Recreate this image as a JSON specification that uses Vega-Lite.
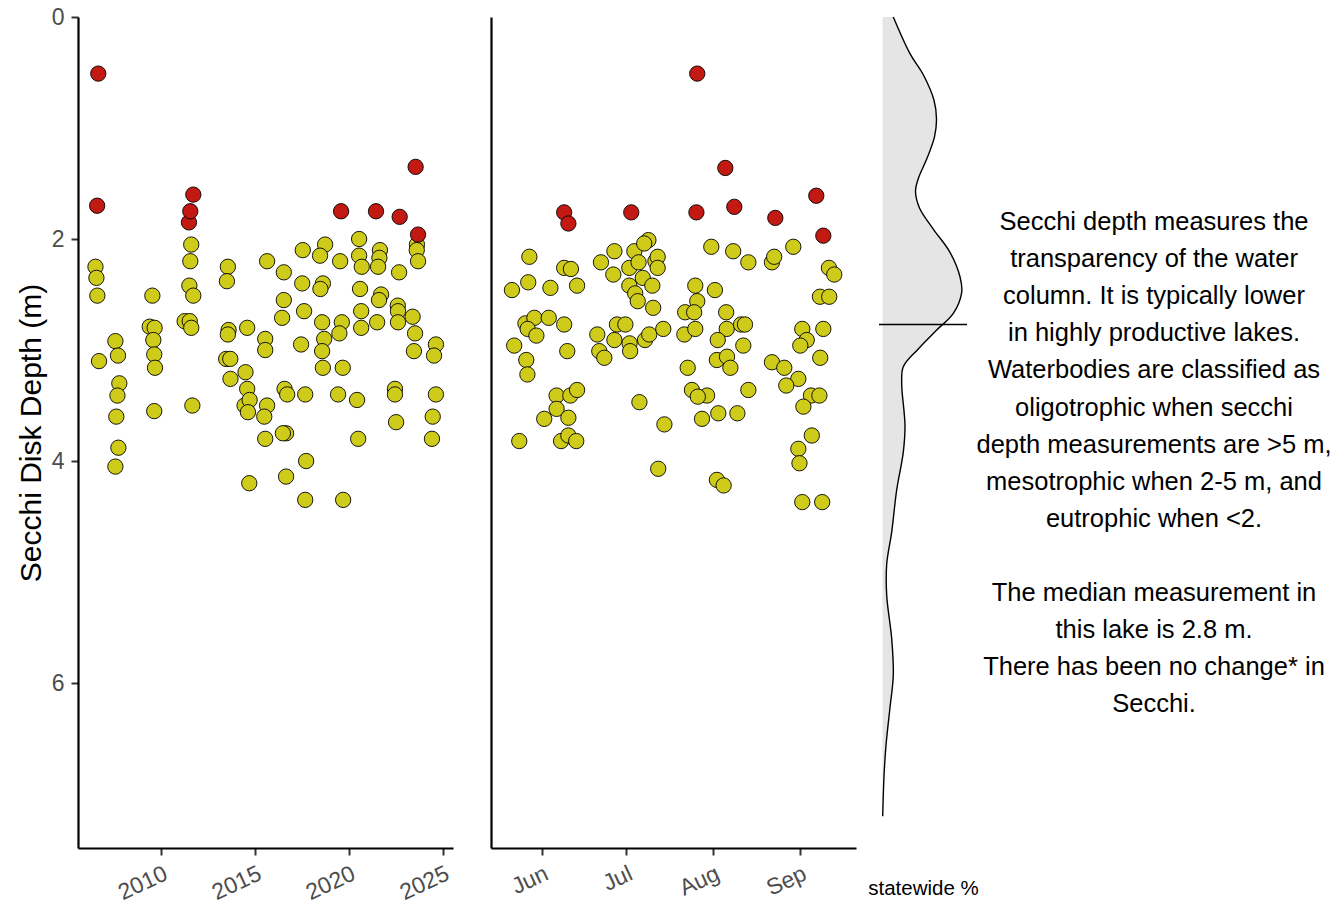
{
  "$schema": "https://vega.github.io/schema/vega-lite/v6.json",
  "padding": {"left": 16, "top": 6, "right": 5, "bottom": 5},
  "config": {
    "font": "Liberation Sans",
    "view": {"stroke": null},
    "axis": {"grid": false, "domainColor": "black", "domainWidth": 2.2, "tickColor": "#333333", "tickWidth": 2, "tickSize": 7, "labelColor": "#4D4D4D", "labelFontSize": 23, "labelFont": "Liberation Sans", "titleFont": "Liberation Sans", "titleFontWeight": "normal", "titleColor": "black"}
  },
  "datasets": {
    "byYear": [
      {"year": 2006.51, "depth": 2.25, "trophic": "mesotrophic"},
      {"year": 2006.56, "depth": 2.35, "trophic": "mesotrophic"},
      {"year": 2006.61, "depth": 2.51, "trophic": "mesotrophic"},
      {"year": 2006.70, "depth": 3.10, "trophic": "mesotrophic"},
      {"year": 2007.57, "depth": 2.92, "trophic": "mesotrophic"},
      {"year": 2007.71, "depth": 3.05, "trophic": "mesotrophic"},
      {"year": 2007.78, "depth": 3.30, "trophic": "mesotrophic"},
      {"year": 2007.68, "depth": 3.41, "trophic": "mesotrophic"},
      {"year": 2007.62, "depth": 3.60, "trophic": "mesotrophic"},
      {"year": 2007.73, "depth": 3.88, "trophic": "mesotrophic"},
      {"year": 2007.57, "depth": 4.05, "trophic": "mesotrophic"},
      {"year": 2009.54, "depth": 2.51, "trophic": "mesotrophic"},
      {"year": 2009.40, "depth": 2.79, "trophic": "mesotrophic"},
      {"year": 2009.66, "depth": 2.80, "trophic": "mesotrophic"},
      {"year": 2009.59, "depth": 2.91, "trophic": "mesotrophic"},
      {"year": 2009.64, "depth": 3.04, "trophic": "mesotrophic"},
      {"year": 2009.68, "depth": 3.16, "trophic": "mesotrophic"},
      {"year": 2009.64, "depth": 3.55, "trophic": "mesotrophic"},
      {"year": 2011.61, "depth": 2.05, "trophic": "mesotrophic"},
      {"year": 2011.56, "depth": 2.20, "trophic": "mesotrophic"},
      {"year": 2011.51, "depth": 2.42, "trophic": "mesotrophic"},
      {"year": 2011.72, "depth": 2.51, "trophic": "mesotrophic"},
      {"year": 2011.26, "depth": 2.74, "trophic": "mesotrophic"},
      {"year": 2011.53, "depth": 2.74, "trophic": "mesotrophic"},
      {"year": 2011.61, "depth": 2.80, "trophic": "mesotrophic"},
      {"year": 2011.67, "depth": 3.50, "trophic": "mesotrophic"},
      {"year": 2013.56, "depth": 2.25, "trophic": "mesotrophic"},
      {"year": 2013.51, "depth": 2.38, "trophic": "mesotrophic"},
      {"year": 2013.60, "depth": 2.82, "trophic": "mesotrophic"},
      {"year": 2013.56, "depth": 2.86, "trophic": "mesotrophic"},
      {"year": 2013.47, "depth": 3.08, "trophic": "mesotrophic"},
      {"year": 2013.69, "depth": 3.08, "trophic": "mesotrophic"},
      {"year": 2013.70, "depth": 3.26, "trophic": "mesotrophic"},
      {"year": 2014.59, "depth": 2.80, "trophic": "mesotrophic"},
      {"year": 2014.50, "depth": 3.20, "trophic": "mesotrophic"},
      {"year": 2014.59, "depth": 3.35, "trophic": "mesotrophic"},
      {"year": 2014.45, "depth": 3.50, "trophic": "mesotrophic"},
      {"year": 2014.72, "depth": 3.45, "trophic": "mesotrophic"},
      {"year": 2014.63, "depth": 3.56, "trophic": "mesotrophic"},
      {"year": 2014.70, "depth": 4.20, "trophic": "mesotrophic"},
      {"year": 2015.65, "depth": 2.20, "trophic": "mesotrophic"},
      {"year": 2015.55, "depth": 2.90, "trophic": "mesotrophic"},
      {"year": 2015.55, "depth": 3.00, "trophic": "mesotrophic"},
      {"year": 2015.65, "depth": 3.50, "trophic": "mesotrophic"},
      {"year": 2015.50, "depth": 3.60, "trophic": "mesotrophic"},
      {"year": 2015.55, "depth": 3.80, "trophic": "mesotrophic"},
      {"year": 2016.54, "depth": 2.30, "trophic": "mesotrophic"},
      {"year": 2016.54, "depth": 2.55, "trophic": "mesotrophic"},
      {"year": 2016.45, "depth": 2.71, "trophic": "mesotrophic"},
      {"year": 2016.58, "depth": 3.35, "trophic": "mesotrophic"},
      {"year": 2016.72, "depth": 3.40, "trophic": "mesotrophic"},
      {"year": 2016.66, "depth": 3.75, "trophic": "mesotrophic"},
      {"year": 2016.49, "depth": 3.75, "trophic": "mesotrophic"},
      {"year": 2016.66, "depth": 4.14, "trophic": "mesotrophic"},
      {"year": 2017.55, "depth": 2.10, "trophic": "mesotrophic"},
      {"year": 2017.52, "depth": 2.40, "trophic": "mesotrophic"},
      {"year": 2017.62, "depth": 2.65, "trophic": "mesotrophic"},
      {"year": 2017.46, "depth": 2.95, "trophic": "mesotrophic"},
      {"year": 2017.68, "depth": 3.40, "trophic": "mesotrophic"},
      {"year": 2017.73, "depth": 4.00, "trophic": "mesotrophic"},
      {"year": 2017.68, "depth": 4.35, "trophic": "mesotrophic"},
      {"year": 2018.74, "depth": 2.05, "trophic": "mesotrophic"},
      {"year": 2018.47, "depth": 2.15, "trophic": "mesotrophic"},
      {"year": 2018.62, "depth": 2.40, "trophic": "mesotrophic"},
      {"year": 2018.49, "depth": 2.45, "trophic": "mesotrophic"},
      {"year": 2018.58, "depth": 2.75, "trophic": "mesotrophic"},
      {"year": 2018.69, "depth": 2.90, "trophic": "mesotrophic"},
      {"year": 2018.58, "depth": 3.01, "trophic": "mesotrophic"},
      {"year": 2018.62, "depth": 3.16, "trophic": "mesotrophic"},
      {"year": 2019.54, "depth": 2.20, "trophic": "mesotrophic"},
      {"year": 2019.63, "depth": 2.75, "trophic": "mesotrophic"},
      {"year": 2019.50, "depth": 2.85, "trophic": "mesotrophic"},
      {"year": 2019.68, "depth": 3.16, "trophic": "mesotrophic"},
      {"year": 2019.43, "depth": 3.40, "trophic": "mesotrophic"},
      {"year": 2019.70, "depth": 4.35, "trophic": "mesotrophic"},
      {"year": 2020.55, "depth": 2.00, "trophic": "mesotrophic"},
      {"year": 2020.55, "depth": 2.15, "trophic": "mesotrophic"},
      {"year": 2020.69, "depth": 2.25, "trophic": "mesotrophic"},
      {"year": 2020.60, "depth": 2.45, "trophic": "mesotrophic"},
      {"year": 2020.66, "depth": 2.65, "trophic": "mesotrophic"},
      {"year": 2020.66, "depth": 2.80, "trophic": "mesotrophic"},
      {"year": 2020.44, "depth": 3.45, "trophic": "mesotrophic"},
      {"year": 2020.50, "depth": 3.80, "trophic": "mesotrophic"},
      {"year": 2021.66, "depth": 2.10, "trophic": "mesotrophic"},
      {"year": 2021.63, "depth": 2.17, "trophic": "mesotrophic"},
      {"year": 2021.56, "depth": 2.25, "trophic": "mesotrophic"},
      {"year": 2021.72, "depth": 2.50, "trophic": "mesotrophic"},
      {"year": 2021.61, "depth": 2.55, "trophic": "mesotrophic"},
      {"year": 2021.51, "depth": 2.75, "trophic": "mesotrophic"},
      {"year": 2022.68, "depth": 2.30, "trophic": "mesotrophic"},
      {"year": 2022.61, "depth": 2.60, "trophic": "mesotrophic"},
      {"year": 2022.62, "depth": 2.65, "trophic": "mesotrophic"},
      {"year": 2022.62, "depth": 2.75, "trophic": "mesotrophic"},
      {"year": 2022.46, "depth": 3.35, "trophic": "mesotrophic"},
      {"year": 2022.46, "depth": 3.40, "trophic": "mesotrophic"},
      {"year": 2022.52, "depth": 3.65, "trophic": "mesotrophic"},
      {"year": 2023.63, "depth": 2.05, "trophic": "mesotrophic"},
      {"year": 2023.62, "depth": 2.10, "trophic": "mesotrophic"},
      {"year": 2023.69, "depth": 2.20, "trophic": "mesotrophic"},
      {"year": 2023.40, "depth": 2.70, "trophic": "mesotrophic"},
      {"year": 2023.53, "depth": 2.85, "trophic": "mesotrophic"},
      {"year": 2023.47, "depth": 3.01, "trophic": "mesotrophic"},
      {"year": 2024.64, "depth": 2.95, "trophic": "mesotrophic"},
      {"year": 2024.54, "depth": 3.05, "trophic": "mesotrophic"},
      {"year": 2024.64, "depth": 3.40, "trophic": "mesotrophic"},
      {"year": 2024.47, "depth": 3.60, "trophic": "mesotrophic"},
      {"year": 2024.43, "depth": 3.80, "trophic": "mesotrophic"},
      {"year": 2006.66, "depth": 0.51, "trophic": "eutrophic"},
      {"year": 2006.60, "depth": 1.70, "trophic": "eutrophic"},
      {"year": 2011.49, "depth": 1.85, "trophic": "eutrophic"},
      {"year": 2011.56, "depth": 1.75, "trophic": "eutrophic"},
      {"year": 2011.72, "depth": 1.60, "trophic": "eutrophic"},
      {"year": 2019.59, "depth": 1.75, "trophic": "eutrophic"},
      {"year": 2021.45, "depth": 1.75, "trophic": "eutrophic"},
      {"year": 2022.71, "depth": 1.80, "trophic": "eutrophic"},
      {"year": 2023.69, "depth": 1.96, "trophic": "eutrophic"},
      {"year": 2023.56, "depth": 1.35, "trophic": "eutrophic"}
    ],
    "bySeason": [
      {"day_of_year": 147.6, "depth": 2.16, "trophic": "mesotrophic"},
      {"day_of_year": 147.2, "depth": 2.39, "trophic": "mesotrophic"},
      {"day_of_year": 141.4, "depth": 2.46, "trophic": "mesotrophic"},
      {"day_of_year": 155.1, "depth": 2.44, "trophic": "mesotrophic"},
      {"day_of_year": 160.0, "depth": 2.26, "trophic": "mesotrophic"},
      {"day_of_year": 162.4, "depth": 2.27, "trophic": "mesotrophic"},
      {"day_of_year": 164.6, "depth": 2.42, "trophic": "mesotrophic"},
      {"day_of_year": 173.1, "depth": 2.21, "trophic": "mesotrophic"},
      {"day_of_year": 177.9, "depth": 2.11, "trophic": "mesotrophic"},
      {"day_of_year": 177.5, "depth": 2.32, "trophic": "mesotrophic"},
      {"day_of_year": 183.2, "depth": 2.26, "trophic": "mesotrophic"},
      {"day_of_year": 185.0, "depth": 2.11, "trophic": "mesotrophic"},
      {"day_of_year": 186.5, "depth": 2.21, "trophic": "mesotrophic"},
      {"day_of_year": 190.0, "depth": 2.01, "trophic": "mesotrophic"},
      {"day_of_year": 188.5, "depth": 2.04, "trophic": "mesotrophic"},
      {"day_of_year": 192.5, "depth": 2.20, "trophic": "mesotrophic"},
      {"day_of_year": 193.3, "depth": 2.16, "trophic": "mesotrophic"},
      {"day_of_year": 193.3, "depth": 2.26, "trophic": "mesotrophic"},
      {"day_of_year": 188.0, "depth": 2.35, "trophic": "mesotrophic"},
      {"day_of_year": 183.2, "depth": 2.42, "trophic": "mesotrophic"},
      {"day_of_year": 191.4, "depth": 2.42, "trophic": "mesotrophic"},
      {"day_of_year": 185.3, "depth": 2.49, "trophic": "mesotrophic"},
      {"day_of_year": 186.2, "depth": 2.56, "trophic": "mesotrophic"},
      {"day_of_year": 191.7, "depth": 2.62, "trophic": "mesotrophic"},
      {"day_of_year": 146.2, "depth": 2.76, "trophic": "mesotrophic"},
      {"day_of_year": 149.4, "depth": 2.71, "trophic": "mesotrophic"},
      {"day_of_year": 154.5, "depth": 2.71, "trophic": "mesotrophic"},
      {"day_of_year": 147.0, "depth": 2.81, "trophic": "mesotrophic"},
      {"day_of_year": 150.1, "depth": 2.87, "trophic": "mesotrophic"},
      {"day_of_year": 160.0, "depth": 2.77, "trophic": "mesotrophic"},
      {"day_of_year": 142.2, "depth": 2.96, "trophic": "mesotrophic"},
      {"day_of_year": 146.5, "depth": 3.09, "trophic": "mesotrophic"},
      {"day_of_year": 146.9, "depth": 3.22, "trophic": "mesotrophic"},
      {"day_of_year": 161.1, "depth": 3.01, "trophic": "mesotrophic"},
      {"day_of_year": 171.8, "depth": 2.86, "trophic": "mesotrophic"},
      {"day_of_year": 172.5, "depth": 3.01, "trophic": "mesotrophic"},
      {"day_of_year": 174.3, "depth": 3.07, "trophic": "mesotrophic"},
      {"day_of_year": 177.9, "depth": 2.91, "trophic": "mesotrophic"},
      {"day_of_year": 178.8, "depth": 2.77, "trophic": "mesotrophic"},
      {"day_of_year": 181.8, "depth": 2.77, "trophic": "mesotrophic"},
      {"day_of_year": 183.3, "depth": 2.94, "trophic": "mesotrophic"},
      {"day_of_year": 183.5, "depth": 3.01, "trophic": "mesotrophic"},
      {"day_of_year": 188.8, "depth": 2.91, "trophic": "mesotrophic"},
      {"day_of_year": 190.3, "depth": 2.86, "trophic": "mesotrophic"},
      {"day_of_year": 195.3, "depth": 2.81, "trophic": "mesotrophic"},
      {"day_of_year": 157.3, "depth": 3.41, "trophic": "mesotrophic"},
      {"day_of_year": 157.3, "depth": 3.53, "trophic": "mesotrophic"},
      {"day_of_year": 162.2, "depth": 3.41, "trophic": "mesotrophic"},
      {"day_of_year": 164.6, "depth": 3.36, "trophic": "mesotrophic"},
      {"day_of_year": 152.9, "depth": 3.62, "trophic": "mesotrophic"},
      {"day_of_year": 161.5, "depth": 3.61, "trophic": "mesotrophic"},
      {"day_of_year": 144.0, "depth": 3.82, "trophic": "mesotrophic"},
      {"day_of_year": 158.9, "depth": 3.82, "trophic": "mesotrophic"},
      {"day_of_year": 161.5, "depth": 3.77, "trophic": "mesotrophic"},
      {"day_of_year": 164.3, "depth": 3.82, "trophic": "mesotrophic"},
      {"day_of_year": 186.8, "depth": 3.47, "trophic": "mesotrophic"},
      {"day_of_year": 195.7, "depth": 3.67, "trophic": "mesotrophic"},
      {"day_of_year": 193.5, "depth": 4.07, "trophic": "mesotrophic"},
      {"day_of_year": 212.4, "depth": 2.07, "trophic": "mesotrophic"},
      {"day_of_year": 220.2, "depth": 2.11, "trophic": "mesotrophic"},
      {"day_of_year": 225.6, "depth": 2.21, "trophic": "mesotrophic"},
      {"day_of_year": 234.0, "depth": 2.21, "trophic": "mesotrophic"},
      {"day_of_year": 234.8, "depth": 2.16, "trophic": "mesotrophic"},
      {"day_of_year": 241.6, "depth": 2.07, "trophic": "mesotrophic"},
      {"day_of_year": 254.3, "depth": 2.26, "trophic": "mesotrophic"},
      {"day_of_year": 256.2, "depth": 2.32, "trophic": "mesotrophic"},
      {"day_of_year": 251.1, "depth": 2.52, "trophic": "mesotrophic"},
      {"day_of_year": 254.4, "depth": 2.52, "trophic": "mesotrophic"},
      {"day_of_year": 206.7, "depth": 2.42, "trophic": "mesotrophic"},
      {"day_of_year": 213.7, "depth": 2.46, "trophic": "mesotrophic"},
      {"day_of_year": 207.4, "depth": 2.56, "trophic": "mesotrophic"},
      {"day_of_year": 203.1, "depth": 2.66, "trophic": "mesotrophic"},
      {"day_of_year": 206.3, "depth": 2.66, "trophic": "mesotrophic"},
      {"day_of_year": 217.7, "depth": 2.66, "trophic": "mesotrophic"},
      {"day_of_year": 202.8, "depth": 2.86, "trophic": "mesotrophic"},
      {"day_of_year": 206.7, "depth": 2.81, "trophic": "mesotrophic"},
      {"day_of_year": 217.9, "depth": 2.81, "trophic": "mesotrophic"},
      {"day_of_year": 223.0, "depth": 2.77, "trophic": "mesotrophic"},
      {"day_of_year": 224.4, "depth": 2.77, "trophic": "mesotrophic"},
      {"day_of_year": 214.7, "depth": 2.91, "trophic": "mesotrophic"},
      {"day_of_year": 223.8, "depth": 2.96, "trophic": "mesotrophic"},
      {"day_of_year": 214.4, "depth": 3.09, "trophic": "mesotrophic"},
      {"day_of_year": 218.0, "depth": 3.06, "trophic": "mesotrophic"},
      {"day_of_year": 219.2, "depth": 3.16, "trophic": "mesotrophic"},
      {"day_of_year": 244.8, "depth": 2.81, "trophic": "mesotrophic"},
      {"day_of_year": 252.3, "depth": 2.81, "trophic": "mesotrophic"},
      {"day_of_year": 246.4, "depth": 2.91, "trophic": "mesotrophic"},
      {"day_of_year": 244.1, "depth": 2.96, "trophic": "mesotrophic"},
      {"day_of_year": 251.2, "depth": 3.07, "trophic": "mesotrophic"},
      {"day_of_year": 204.0, "depth": 3.16, "trophic": "mesotrophic"},
      {"day_of_year": 234.0, "depth": 3.11, "trophic": "mesotrophic"},
      {"day_of_year": 238.4, "depth": 3.16, "trophic": "mesotrophic"},
      {"day_of_year": 243.4, "depth": 3.26, "trophic": "mesotrophic"},
      {"day_of_year": 239.1, "depth": 3.32, "trophic": "mesotrophic"},
      {"day_of_year": 205.5, "depth": 3.36, "trophic": "mesotrophic"},
      {"day_of_year": 210.9, "depth": 3.41, "trophic": "mesotrophic"},
      {"day_of_year": 207.6, "depth": 3.42, "trophic": "mesotrophic"},
      {"day_of_year": 209.1, "depth": 3.62, "trophic": "mesotrophic"},
      {"day_of_year": 214.9, "depth": 3.57, "trophic": "mesotrophic"},
      {"day_of_year": 221.7, "depth": 3.57, "trophic": "mesotrophic"},
      {"day_of_year": 225.6, "depth": 3.36, "trophic": "mesotrophic"},
      {"day_of_year": 247.9, "depth": 3.41, "trophic": "mesotrophic"},
      {"day_of_year": 250.9, "depth": 3.41, "trophic": "mesotrophic"},
      {"day_of_year": 245.2, "depth": 3.51, "trophic": "mesotrophic"},
      {"day_of_year": 248.2, "depth": 3.77, "trophic": "mesotrophic"},
      {"day_of_year": 243.4, "depth": 3.89, "trophic": "mesotrophic"},
      {"day_of_year": 243.8, "depth": 4.02, "trophic": "mesotrophic"},
      {"day_of_year": 214.4, "depth": 4.17, "trophic": "mesotrophic"},
      {"day_of_year": 216.8, "depth": 4.22, "trophic": "mesotrophic"},
      {"day_of_year": 244.8, "depth": 4.37, "trophic": "mesotrophic"},
      {"day_of_year": 251.9, "depth": 4.37, "trophic": "mesotrophic"},
      {"day_of_year": 160.0, "depth": 1.76, "trophic": "eutrophic"},
      {"day_of_year": 161.5, "depth": 1.86, "trophic": "eutrophic"},
      {"day_of_year": 183.9, "depth": 1.76, "trophic": "eutrophic"},
      {"day_of_year": 207.1, "depth": 1.76, "trophic": "eutrophic"},
      {"day_of_year": 207.4, "depth": 0.51, "trophic": "eutrophic"},
      {"day_of_year": 217.4, "depth": 1.36, "trophic": "eutrophic"},
      {"day_of_year": 220.6, "depth": 1.71, "trophic": "eutrophic"},
      {"day_of_year": 235.2, "depth": 1.81, "trophic": "eutrophic"},
      {"day_of_year": 249.8, "depth": 1.61, "trophic": "eutrophic"},
      {"day_of_year": 252.3, "depth": 1.97, "trophic": "eutrophic"}
    ],
    "statewide": [
      {"depth": 0.0, "pct": 1.08},
      {"depth": 0.33, "pct": 2.75},
      {"depth": 0.52, "pct": 4.08},
      {"depth": 0.75, "pct": 5.15},
      {"depth": 0.92, "pct": 5.4},
      {"depth": 1.08, "pct": 5.2},
      {"depth": 1.28, "pct": 4.42},
      {"depth": 1.45, "pct": 3.6},
      {"depth": 1.57, "pct": 3.3},
      {"depth": 1.72, "pct": 3.7},
      {"depth": 1.91, "pct": 5.08},
      {"depth": 2.12, "pct": 6.75},
      {"depth": 2.34, "pct": 7.75},
      {"depth": 2.48, "pct": 7.92},
      {"depth": 2.67, "pct": 7.08},
      {"depth": 2.82, "pct": 5.42},
      {"depth": 2.99, "pct": 3.58},
      {"depth": 3.15, "pct": 2.08},
      {"depth": 3.30, "pct": 1.92},
      {"depth": 3.68, "pct": 2.25},
      {"depth": 3.92, "pct": 2.08},
      {"depth": 4.26, "pct": 1.42},
      {"depth": 4.64, "pct": 0.92},
      {"depth": 4.93, "pct": 0.42},
      {"depth": 5.21, "pct": 0.42},
      {"depth": 5.60, "pct": 0.92},
      {"depth": 5.93, "pct": 1.08},
      {"depth": 6.22, "pct": 0.75},
      {"depth": 6.56, "pct": 0.35},
      {"depth": 6.84, "pct": 0.15},
      {"depth": 7.20, "pct": 0.02}
    ],
    "lakeMedian": [{"median": 2.77}],
    "note": [
      {"text": ["Secchi depth measures the", "transparency of the water", "column. It is typically lower", "in highly productive lakes.", "Waterbodies are classified as", "oligotrophic when secchi", "depth measurements are >5 m,", "mesotrophic when 2-5 m, and", "eutrophic when <2."], "first_line_depth": 1.847},
      {"text": ["The median measurement in", "this lake is 2.8 m.", "There has been no change* in", "Secchi."], "first_line_depth": 5.189}
    ]
  },
  "bounds": "flush",
  "spacing": 38,
  "hconcat": [
    {
      "width": 375,
      "height": 831,
      "data": {"name": "byYear"},
      "mark": {"type": "circle", "size": 235, "stroke": "black", "strokeWidth": 0.9, "opacity": 1},
      "encoding": {
        "x": {"field": "year", "type": "quantitative", "scale": {"domain": [2005.58, 2025.55], "nice": false, "zero": false},
              "axis": {"values": [2010, 2015, 2020, 2025], "format": "d", "title": null, "labelAngle": -25, "labelAlign": "right", "labelBaseline": "top", "labelPadding": 7}},
        "y": {"field": "depth", "type": "quantitative", "scale": {"domain": [0, 7.486], "reverse": true, "nice": false, "zero": false},
              "axis": {"values": [0, 2, 4, 6], "title": "Secchi Disk Depth (m)", "titleFontSize": 30, "labelPadding": 7, "titlePadding": 5}},
        "fill": {"field": "trophic", "type": "nominal", "scale": {"domain": ["eutrophic", "mesotrophic"], "range": ["#C21A12", "#CFCB1B"]}, "legend": null}
      }
    },
    {
      "bounds": "flush",
      "spacing": 23,
      "hconcat": [
        {
          "width": 365,
          "height": 831,
          "data": {"name": "bySeason"},
          "mark": {"type": "circle", "size": 235, "stroke": "black", "strokeWidth": 0.9, "opacity": 1},
          "encoding": {
            "x": {"field": "day_of_year", "type": "quantitative", "scale": {"domain": [133.94, 263.94], "nice": false, "zero": false},
                  "axis": {"values": [152, 182, 213, 244], "labelExpr": "datum.value == 152 ? 'Jun' : datum.value == 182 ? 'Jul' : datum.value == 213 ? 'Aug' : 'Sep'", "title": null, "labelAngle": -25, "labelAlign": "right", "labelBaseline": "top", "labelPadding": 7}},
            "y": {"field": "depth", "type": "quantitative", "scale": {"domain": [0, 7.486], "reverse": true, "nice": false, "zero": false},
                  "axis": {"labels": false, "ticks": false, "title": null, "domain": true}},
            "fill": {"field": "trophic", "type": "nominal", "scale": {"domain": ["eutrophic", "mesotrophic"], "range": ["#C21A12", "#CFCB1B"]}, "legend": null}
          }
        },
        {
          "width": 88,
          "height": 831,
          "layer": [
            {
              "data": {"name": "statewide"},
              "mark": {"type": "area", "orient": "horizontal", "color": "#E5E5E5", "interpolate": "catmull-rom"},
              "encoding": {
                "x": {"field": "pct", "type": "quantitative", "scale": {"domain": [-0.35, 8.45], "nice": false, "zero": false},
                      "axis": {"title": "statewide %", "domain": false, "ticks": false, "labels": false, "titleFontSize": 20.5, "titlePadding": 30, "titleColor": "black"}},
                "y": {"field": "depth", "type": "quantitative", "scale": {"domain": [0, 7.486], "reverse": true, "nice": false, "zero": false}, "axis": null}
              }
            },
            {
              "data": {"name": "statewide"},
              "mark": {"type": "line", "orient": "horizontal", "color": "black", "strokeWidth": 1.4, "interpolate": "catmull-rom"},
              "encoding": {
                "x": {"field": "pct", "type": "quantitative"},
                "y": {"field": "depth", "type": "quantitative"},
                "order": {"field": "depth", "type": "quantitative"}
              }
            },
            {
              "data": {"name": "lakeMedian"},
              "mark": {"type": "rule", "color": "black", "strokeWidth": 1.4},
              "encoding": {"y": {"field": "median", "type": "quantitative"}}
            }
          ]
        },
        {
          "width": 328,
          "height": 831,
          "data": {"name": "note"},
          "mark": {"type": "text", "fontSize": 25.5, "lineHeight": 37.1, "align": "center", "baseline": "middle", "color": "black"},
          "encoding": {
            "text": {"field": "text", "type": "nominal"},
            "y": {"field": "first_line_depth", "type": "quantitative", "scale": {"domain": [0, 7.486], "reverse": true, "nice": false, "zero": false}, "axis": null}
          }
        }
      ]
    }
  ]
}
